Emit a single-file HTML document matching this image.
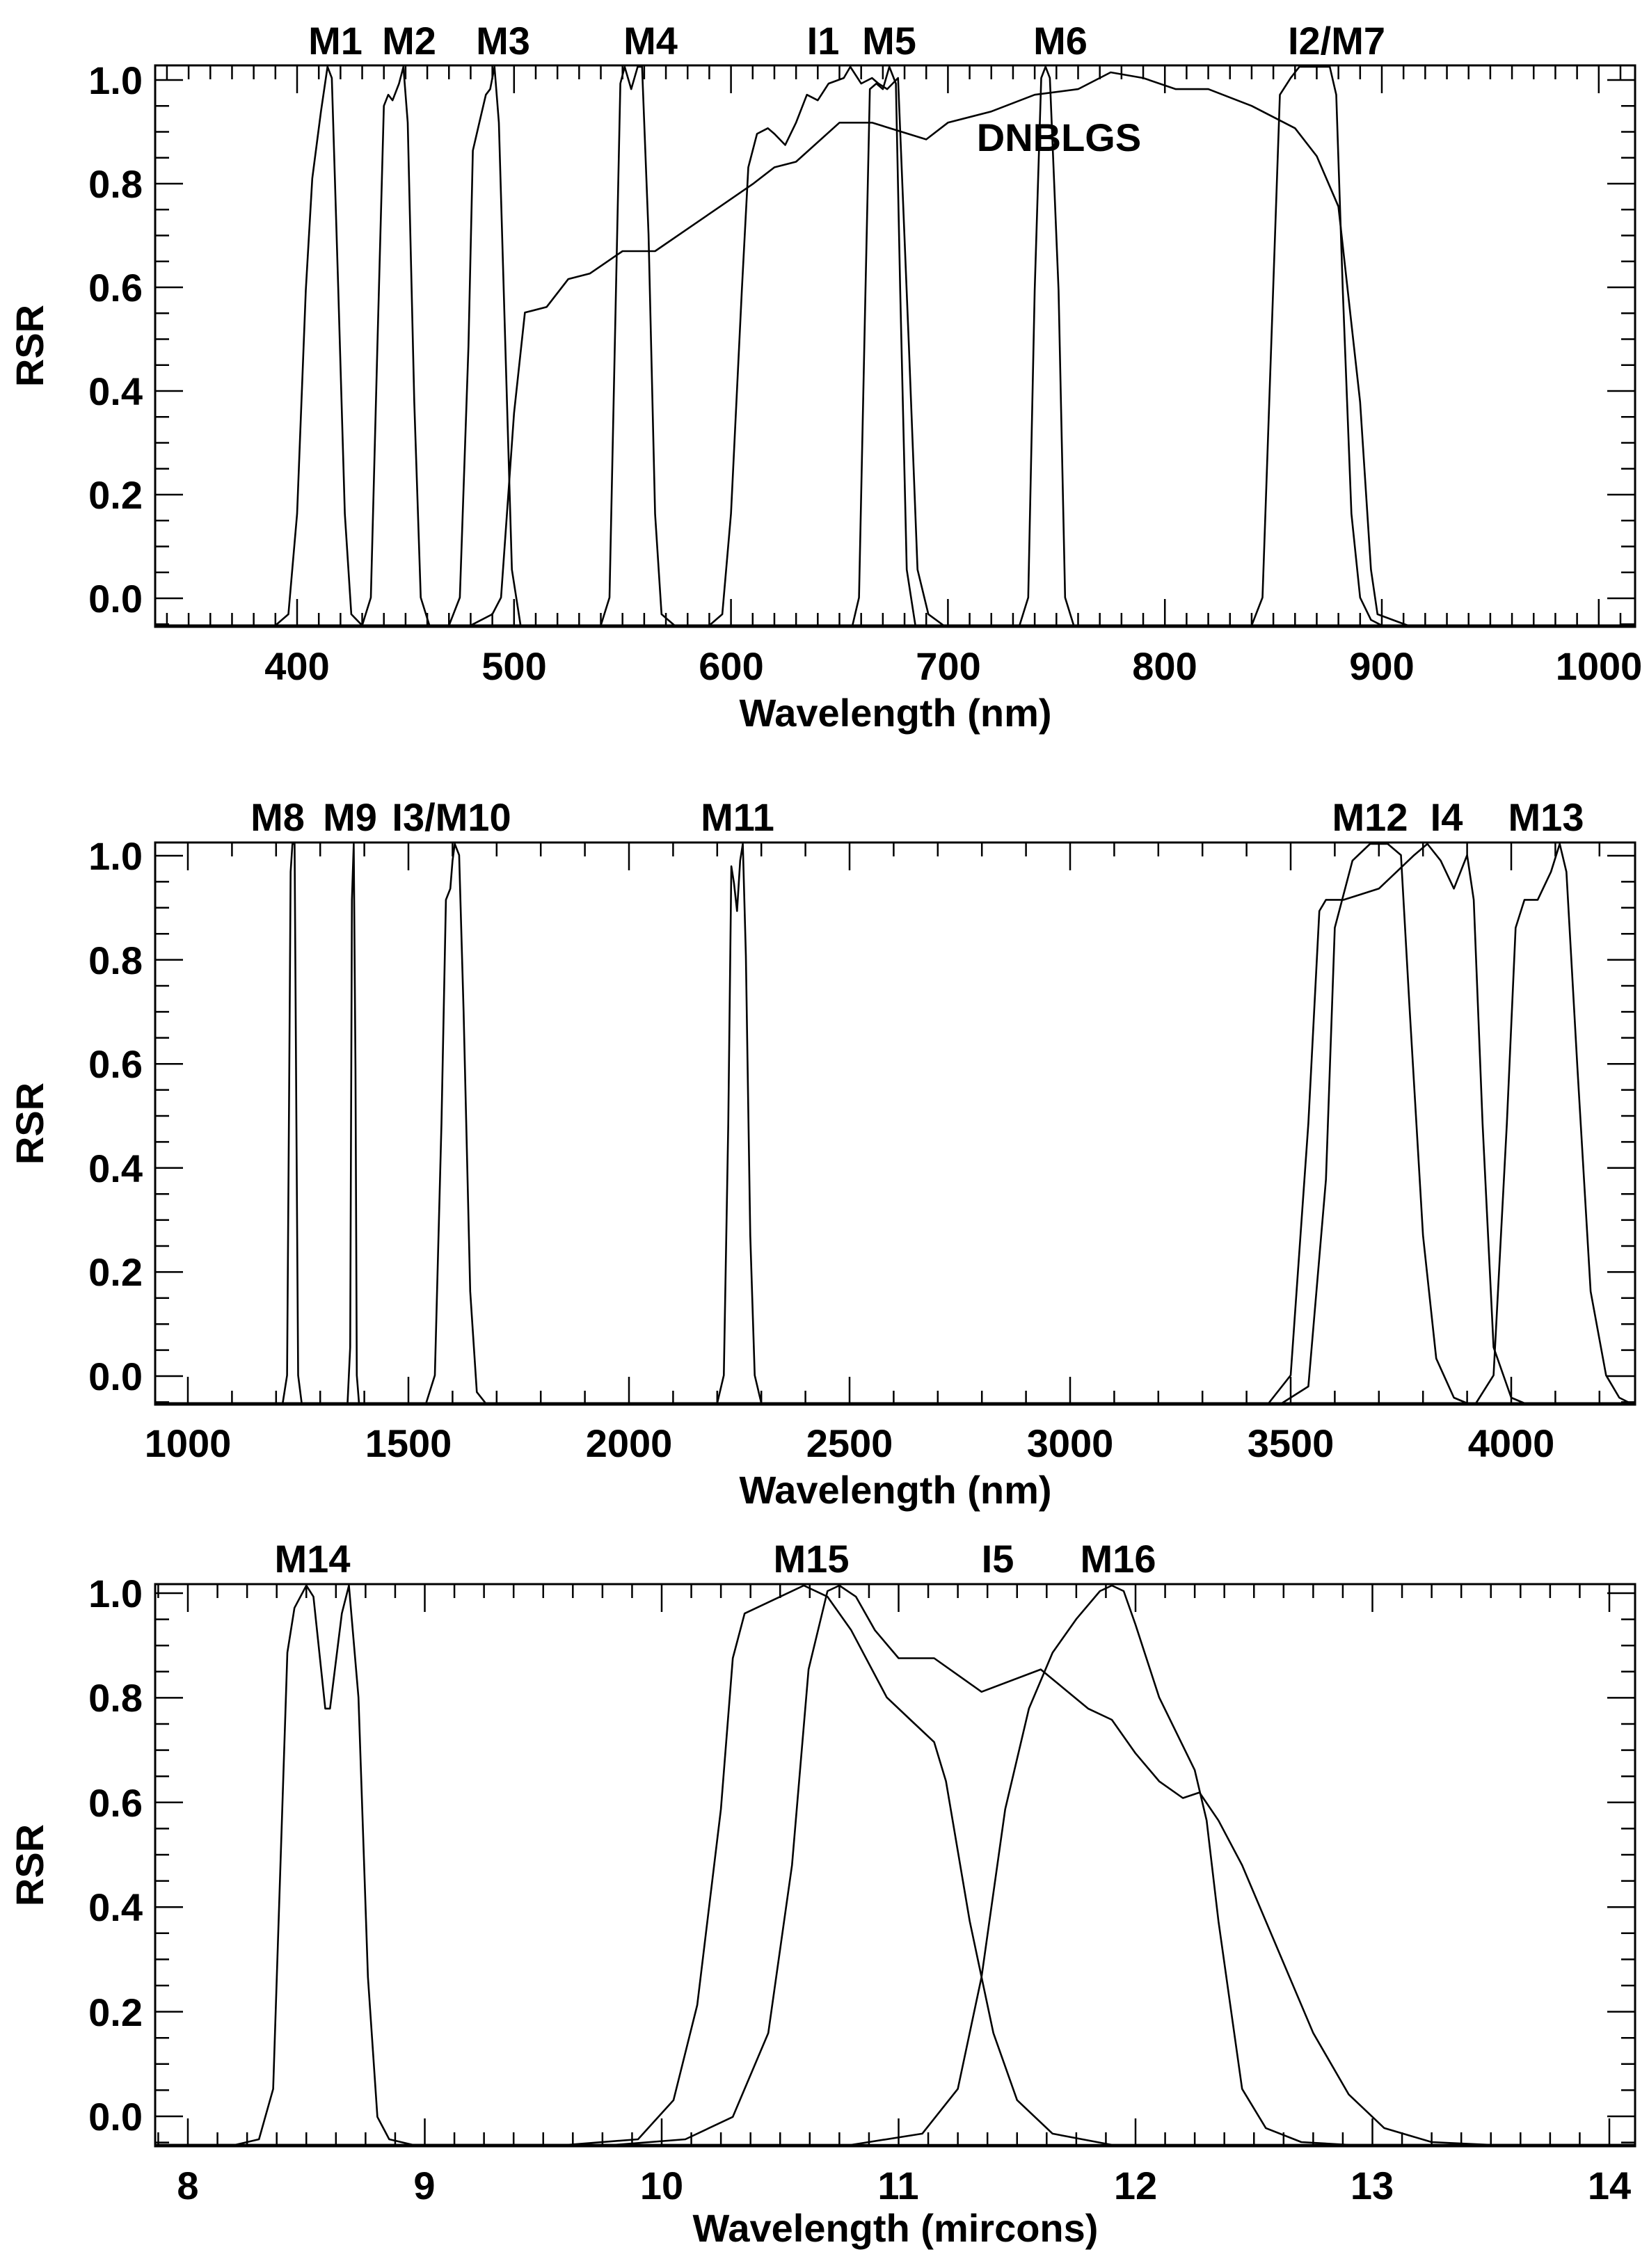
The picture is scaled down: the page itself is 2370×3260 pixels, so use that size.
<!DOCTYPE html>
<html><head><meta charset="utf-8">
<style>
html,body{margin:0;padding:0;background:#fff;}
svg{display:block;}
text{font-family:"Liberation Sans",Arial,sans-serif;font-weight:bold;fill:#000;}
</style></head>
<body>
<svg id="s" width="2370" height="3260" viewBox="0 0 2370 3260" xmlns="http://www.w3.org/2000/svg">
<rect width="2370" height="3260" fill="#fff"/>
<g id="g"></g>
<g font-size="56" text-anchor="middle">
<text x="482" y="78">M1</text><text x="588" y="78">M2</text><text x="723" y="78">M3</text>
<text x="935" y="78">M4</text><text x="1183" y="78">I1</text><text x="1278" y="78">M5</text>
<text x="1524" y="78">M6</text><text x="1921" y="78">I2/M7</text>
<text x="1522" y="217">DNBLGS</text>
<text x="427" y="977">400</text><text x="739" y="977">500</text><text x="1051" y="977">600</text>
<text x="1363" y="977">700</text><text x="1674" y="977">800</text><text x="1986" y="977">900</text>
<text x="2298" y="977">1000</text>
<text x="1287" y="1044">Wavelength (nm)</text>
</g>
<g font-size="56" text-anchor="end">
<text x="205" y="880">0.0</text><text x="205" y="731">0.2</text><text x="205" y="582">0.4</text>
<text x="205" y="433">0.6</text><text x="205" y="284">0.8</text><text x="205" y="135">1.0</text>
</g>
<text font-size="56" text-anchor="middle" transform="translate(62,497) rotate(-90)">RSR</text>
<g font-size="56" text-anchor="middle">
<text x="399" y="1194">M8</text><text x="503" y="1194">M9</text><text x="649" y="1194">I3/M10</text>
<text x="1060" y="1194">M11</text><text x="1969" y="1194">M12</text><text x="2079" y="1194">I4</text>
<text x="2222" y="1194">M13</text>
<text x="270" y="2094">1000</text><text x="587" y="2094">1500</text><text x="904" y="2094">2000</text>
<text x="1221" y="2094">2500</text><text x="1538" y="2094">3000</text><text x="1855" y="2094">3500</text>
<text x="2172" y="2094">4000</text>
<text x="1287" y="2161">Wavelength (nm)</text>
</g>
<g font-size="56" text-anchor="end">
<text x="205" y="1998">0.0</text><text x="205" y="1848">0.2</text><text x="205" y="1699">0.4</text>
<text x="205" y="1549">0.6</text><text x="205" y="1400">0.8</text><text x="205" y="1250">1.0</text>
</g>
<text font-size="56" text-anchor="middle" transform="translate(62,1615) rotate(-90)">RSR</text>
<g font-size="56" text-anchor="middle">
<text x="449" y="2260">M14</text><text x="1166" y="2260">M15</text><text x="1434" y="2260">I5</text>
<text x="1607" y="2260">M16</text>
<text x="270" y="3161">8</text><text x="610" y="3161">9</text><text x="951" y="3161">10</text>
<text x="1291" y="3161">11</text><text x="1632" y="3161">12</text><text x="1972" y="3161">13</text>
<text x="2313" y="3161">14</text>
<text x="1287" y="3222">Wavelength (mircons)</text>
</g>
<g font-size="56" text-anchor="end">
<text x="205" y="3062">0.0</text><text x="205" y="2912">0.2</text><text x="205" y="2761">0.4</text>
<text x="205" y="2611">0.6</text><text x="205" y="2460">0.8</text><text x="205" y="2310">1.0</text>
</g>
<text font-size="56" text-anchor="middle" transform="translate(62,2681) rotate(-90)">RSR</text>
</svg>
<script>
(function(){
var g=document.getElementById('g'),NS='http://www.w3.org/2000/svg';
function add(tag,at){var e=document.createElementNS(NS,tag);for(var k in at)e.setAttribute(k,at[k]);g.appendChild(e);return e;}
var P=[
 {l:223,r:2350,t:94,b:901,x0:400,px0:427,sx:3.118,y0:860,sy:745,minor:10,major:100,curves:[
  [[390,0],[396,0.02],[400,0.2],[404,0.6],[407,0.8],[411,0.92],[414,1],[416,0.98],[419,0.6],[422,0.2],[425,0.02],[430,0]],
  [[430,0],[434,0.05],[437,0.5],[440,0.93],[442,0.95],[444,0.94],[447,0.97],[449,1],[451,0.9],[454,0.4],[457,0.05],[461,0]],
  [[470,0],[475,0.05],[479,0.5],[481,0.85],[484,0.9],[487,0.95],[489,0.96],[491,1],[493,0.9],[496,0.5],[499,0.1],[503,0]],
  [[540,0],[544,0.05],[547,0.6],[549,0.97],[551,1.0],[554,0.96],[557,1.0],[559,1.0],[562,0.7],[565,0.2],[568,0.02],[574,0]],
  [[590,0],[596,0.02],[600,0.2],[605,0.6],[608,0.82],[612,0.88],[617,0.89],[620,0.88],[625,0.86],[630,0.9],[635,0.95],[640,0.94],[645,0.97],[652,0.98],[655,1.0],[660,0.97],[665,0.98],[668,0.97],[672,0.96],[677,0.98],[682,0.5],[686,0.1],[691,0.02],[698,0]],
  [[656,0],[659,0.05],[662,0.6],[664,0.96],[667,0.97],[670,0.96],[673,1.0],[676,0.97],[678,0.6],[681,0.1],[685,0]],
  [[733,0],[737,0.05],[740,0.6],[743,0.98],[745,1],[747,0.98],[751,0.6],[754,0.05],[758,0]],
  [[840,0],[845,0.05],[849,0.5],[853,0.95],[858,0.98],[862,1],[876,1],[879,0.95],[882,0.6],[886,0.2],[890,0.05],[895,0.01],[900,0]],
  [[480,0],[490,0.02],[494,0.05],[500,0.38],[505,0.56],[515,0.57],[525,0.62],[535,0.63],[550,0.67],[565,0.67],[580,0.71],[595,0.75],[610,0.79],[620,0.82],[630,0.83],[650,0.9],[665,0.9],[690,0.87],[700,0.9],[720,0.92],[740,0.95],[760,0.96],[775,0.99],[790,0.98],[805,0.96],[820,0.96],[840,0.93],[860,0.89],[870,0.84],[880,0.75],[890,0.4],[895,0.1],[898,0.02],[905,0.01],[912,0]]
 ]},
 {l:223,r:2350,t:1211,b:2019,x0:1000,px0:270,sx:0.634,y0:1978,sy:748,minor:100,major:500,curves:[
  [[1215,0],[1225,0.05],[1230,0.6],[1233,0.95],[1237,1],[1242,1],[1246,0.5],[1250,0.05],[1258,0]],
  [[1362,0],[1368,0.1],[1372,0.9],[1376,1],[1380,0.6],[1383,0.05],[1388,0]],
  [[1540,0],[1560,0.05],[1575,0.5],[1585,0.9],[1595,0.92],[1600,0.97],[1605,1],[1615,0.98],[1625,0.7],[1640,0.2],[1655,0.02],[1675,0]],
  [[2200,0],[2215,0.05],[2225,0.5],[2232,0.96],[2238,0.93],[2245,0.88],[2252,0.97],[2258,1],[2265,0.8],[2275,0.3],[2285,0.05],[2300,0]],
  [[3450,0],[3500,0.05],[3540,0.5],[3565,0.88],[3580,0.9],[3620,0.9],[3660,0.91],[3700,0.92],[3740,0.95],[3780,0.98],[3810,1],[3840,0.97],[3870,0.92],[3900,0.98],[3915,0.9],[3935,0.5],[3960,0.1],[4000,0.01],[4030,0]],
  [[3480,0],[3540,0.03],[3580,0.4],[3600,0.85],[3640,0.97],[3680,1],[3720,1],[3750,0.98],[3770,0.7],[3800,0.3],[3830,0.08],[3870,0.01],[3900,0]],
  [[3920,0],[3960,0.05],[3990,0.5],[4010,0.85],[4030,0.9],[4060,0.9],[4090,0.95],[4110,1],[4125,0.95],[4150,0.6],[4180,0.2],[4215,0.05],[4245,0.01],[4270,0]]
 ]},
 {l:223,r:2350,t:2277,b:3085,x0:8,px0:270,sx:340.5,y0:3042,sy:752,minor:0.125,major:1,curves:[
  [[8.2,0],[8.3,0.01],[8.36,0.1],[8.42,0.88],[8.45,0.96],[8.5,1],[8.53,0.98],[8.58,0.78],[8.6,0.78],[8.65,0.95],[8.68,1],[8.72,0.8],[8.76,0.3],[8.8,0.05],[8.85,0.01],[8.95,0]],
  [[9.6,0],[9.9,0.01],[10.05,0.08],[10.15,0.25],[10.25,0.6],[10.3,0.87],[10.35,0.95],[10.5,0.98],[10.6,1.0],[10.7,0.98],[10.8,0.92],[10.95,0.8],[11.05,0.76],[11.15,0.72],[11.2,0.65],[11.3,0.4],[11.4,0.2],[11.5,0.08],[11.65,0.02],[11.9,0]],
  [[9.8,0],[10.1,0.01],[10.3,0.05],[10.45,0.2],[10.55,0.5],[10.62,0.85],[10.7,0.99],[10.75,1],[10.82,0.98],[10.9,0.92],[11.0,0.87],[11.15,0.87],[11.35,0.81],[11.6,0.85],[11.8,0.78],[11.9,0.76],[12.0,0.7],[12.1,0.65],[12.2,0.62],[12.27,0.63],[12.35,0.58],[12.45,0.5],[12.6,0.35],[12.75,0.2],[12.9,0.09],[13.05,0.03],[13.25,0.005],[13.5,0]],
  [[10.8,0],[11.1,0.02],[11.25,0.1],[11.35,0.3],[11.45,0.6],[11.55,0.78],[11.65,0.88],[11.75,0.94],[11.85,0.99],[11.9,1.0],[11.95,0.99],[12.0,0.93],[12.1,0.8],[12.25,0.67],[12.3,0.58],[12.35,0.4],[12.45,0.1],[12.55,0.03],[12.7,0.005],[12.9,0]]
 ]}
];
P.forEach(function(p){
  function X(x){return p.px0+(x-p.x0)*p.sx;}
  function Y(v){return p.y0-v*p.sy;}
  function C(v){return p.b-2-v*(p.b-p.t-4);}
  p.curves.forEach(function(c){
    var d='M'+p.l+' '+C(0);
    c.forEach(function(pt){d+='L'+X(pt[0]).toFixed(1)+' '+C(pt[1]).toFixed(1);});
    d+='L'+p.r+' '+C(0);
    add('path',{d:d,fill:'none',stroke:'#000','stroke-width':2.6,'stroke-linejoin':'round'});
  });
  var xs=p.x0+(Math.ceil((p.l-p.px0)/p.sx/p.minor))*p.minor;
  for(var x=xs;X(x)<=p.r+0.5;x+=p.minor){
    var px=X(x);var r=Math.abs(x/p.major-Math.round(x/p.major))<1e-6;var L=r?40:20;
    add('line',{x1:px,x2:px,y1:p.b,y2:p.b-L,stroke:'#000','stroke-width':2.5});
    add('line',{x1:px,x2:px,y1:p.t,y2:p.t+L,stroke:'#000','stroke-width':2.5});
  }
  for(var k=-1;k<=20;k++){
    var v=k*0.05;var py=Y(v);if(py>p.b||py<p.t)continue;
    var mj=(k%4===0);var L=mj?40:20;
    add('line',{x1:p.l,x2:p.l+L,y1:py,y2:py,stroke:'#000','stroke-width':2.5});
    add('line',{x1:p.r,x2:p.r-L,y1:py,y2:py,stroke:'#000','stroke-width':2.5});
  }
  add('rect',{x:p.l,y:p.t,width:p.r-p.l,height:p.b-p.t,fill:'none',stroke:'#000','stroke-width':3});
});
})();
</script>
</body></html>
